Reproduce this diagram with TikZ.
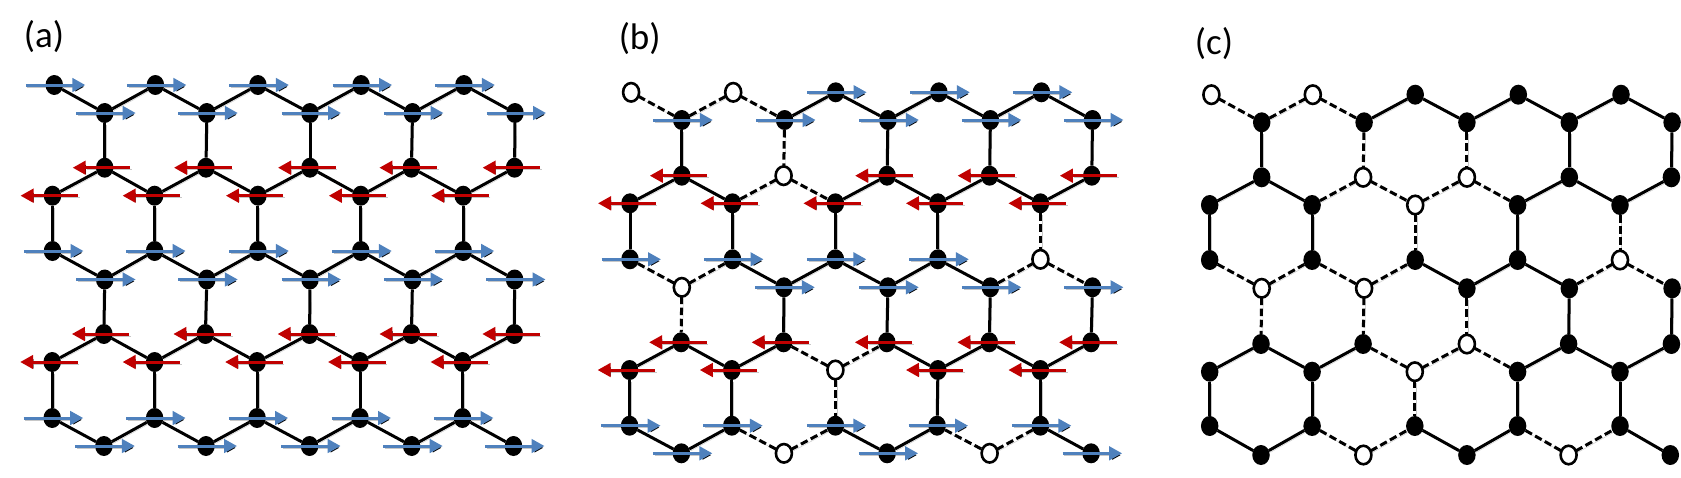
\documentclass[tikz,border=0pt]{standalone}
\usepackage{fontspec}
\setmainfont{Carlito}
\usetikzlibrary{shapes.geometric,arrows.meta}
\definecolor{spinblue}{HTML}{4F81BD}
\definecolor{spinred}{HTML}{C00000}
\tikzset{
  softshadow/.style={preaction={draw=black,draw opacity=0.22,transform canvas={shift={(1.6pt,-1.8pt)}}}},
  fullsite/.style={shape=ellipse,fill=black,inner sep=0pt,outer sep=0pt,minimum width=17.5pt,minimum height=20pt},
  emptysite/.style={shape=ellipse,draw=black,line width=2.6pt,fill=white,inner sep=0pt,outer sep=0pt,minimum width=16pt,minimum height=18.5pt},
  solidbond/.style={draw=black,line width=3pt,softshadow},
  dashedbond/.style={draw=black,line width=3pt,dash pattern=on 7.5pt off 3.6pt,softshadow},
  upspin/.style={draw=spinblue,line width=3pt,-{Triangle[length=13pt,width=13.5pt]},softshadow},
  downspin/.style={draw=spinred,line width=3pt,-{Triangle[length=13pt,width=13.5pt]},softshadow},
  panellabel/.style={font=\fontsize{37}{37}\selectfont,inner sep=0pt}
}
\newif\ifbonddashed
\newcommand\siterow[4]{%
  \foreach \xx [count=\cc from 0] in {#4}{%
    \ifcsname op#1#2\cc\endcsname
      \node[emptysite] (#1#2\cc) at (\xx,#3) {};
    \else
      \node[fullsite] (#1#2\cc) at (\xx,#3) {};
    \fi
  }%
}
\newcommand\linksites[5]{%
  \bonddashedfalse
  \ifcsname op#1#2#3\endcsname\bonddashedtrue\fi
  \ifcsname op#1#4#5\endcsname\bonddashedtrue\fi
  \ifbonddashed
    \draw[dashedbond] (#1#2#3) -- (#1#4#5);
  \else
    \draw[solidbond] (#1#2#3) -- (#1#4#5);
  \fi
}
\foreach \n in {b00,b01,b21,b44,b50,b72,b91,b93,
                c00,c01,c21,c22,c32,c44,c50,c51,c62,c72,c91,c93}{%
  \expandafter\gdef\csname op\n\endcsname{}}
\begin{document}
\begin{tikzpicture}[x=1pt,y=-1pt]
\useasboundingbox (0,0) rectangle (1681,477);
\node[panellabel] (la) at (44,37) {(a)};
\node[panellabel] (lb) at (639.7,39) {(b)};
\node[panellabel] (lc) at (1214,44) {(c)};
% panel a
\siterow{a}{0}{85}{54.3,155.4,257.9,361.1,463.9}
\siterow{a}{1}{113}{104.7,206.8,310,412.5,515}
\siterow{a}{2}{167.7}{104.7,206,310,411.4,514.6}
\siterow{a}{3}{195.7}{52.5,154.6,257.9,360.8,463.2}
\siterow{a}{4}{251}{52.5,154.6,257.9,360.8,463.2}
\siterow{a}{5}{279.5}{104.7,206.8,310,412.5,514.6}
\siterow{a}{6}{334}{103.9,205.4,309.6,411.4,514.3}
\siterow{a}{7}{362}{52.2,154.6,257.1,360,462.5}
\siterow{a}{8}{418}{52.2,154.6,257.1,360,462.5}
\siterow{a}{9}{446}{103.9,206,309.6,411.7,513.5}
% panel b
\siterow{b}{0}{92.3}{631.1,733.2,835.7,938.9,1041.4}
\siterow{b}{1}{120}{681.8,784.6,887.9,990.4,1092.5}
\siterow{b}{2}{175.7}{681.8,783.6,887.1,989.6,1091.8}
\siterow{b}{3}{203.3}{630,732.5,835.4,937.9,1040.4}
\siterow{b}{4}{259.3}{630,732.5,835.4,937.9,1040.4}
\siterow{b}{5}{287.3}{681.8,783.9,887.9,990.4,1092.5}
\siterow{b}{6}{342.3}{681.1,783.6,886.8,989.3,1091.1}
\siterow{b}{7}{370}{629.6,731.8,835.4,937.9,1040.4}
\siterow{b}{8}{425.7}{629.6,731.8,835.4,937.1,1040.4}
\siterow{b}{9}{453.3}{681.4,783.9,887.1,989.6,1091.1}
% panel c
\siterow{c}{0}{94.7}{1211.4,1312.8,1415.2,1518.3,1621}
\siterow{c}{1}{122.3}{1261.7,1364.1,1466.9,1569.3,1672.1}
\siterow{c}{2}{177.3}{1261.7,1363.1,1466.9,1569.3,1671.4}
\siterow{c}{3}{205}{1209.7,1312.1,1415.2,1517.6,1620}
\siterow{c}{4}{260}{1209.7,1312.1,1415.2,1517.6,1620}
\siterow{c}{5}{288.3}{1261.7,1364.1,1466.9,1569.3,1672.1}
\siterow{c}{6}{344}{1261,1363.1,1466.9,1568.6,1671.4}
\siterow{c}{7}{371.7}{1209.7,1312.1,1414.8,1517.6,1620}
\siterow{c}{8}{426}{1209.7,1312.1,1414.8,1517.6,1620}
\siterow{c}{9}{455}{1261,1363.4,1466.9,1568.6,1670.3}
% bonds
\foreach \pp in {a,b,c}{%
  \foreach \ii [evaluate=\ii as \jj using int(\ii+1)] in {0,...,4}{%
    \foreach \tt/\bb in {1/2,3/4,5/6,7/8}{\linksites{\pp}{\tt}{\ii}{\bb}{\ii}}%
    \foreach \ll/\mm in {0/1,3/2,4/5,7/6,8/9}{%
      \linksites{\pp}{\ll}{\ii}{\mm}{\ii}%
      \ifnum\ii<4 \linksites{\pp}{\mm}{\ii}{\ll}{\jj}\fi
    }%
  }%
}
% spins
\foreach \pp in {a,b}{%
  \foreach \rr in {0,...,9}{%
    \pgfmathtruncatemacro\mm{mod(\rr,4)}%
    \foreach \ii in {0,...,4}{%
      \ifcsname op\pp\rr\ii\endcsname\else
        \ifnum\mm<2
          \draw[upspin] ([xshift=-28.5pt]\pp\rr\ii.center) -- ([xshift=31pt]\pp\rr\ii.center);
        \else
          \draw[downspin] ([xshift=25.5pt]\pp\rr\ii.center) -- ([xshift=-32pt]\pp\rr\ii.center);
        \fi
      \fi
    }%
  }%
}
\end{tikzpicture}
\end{document}
